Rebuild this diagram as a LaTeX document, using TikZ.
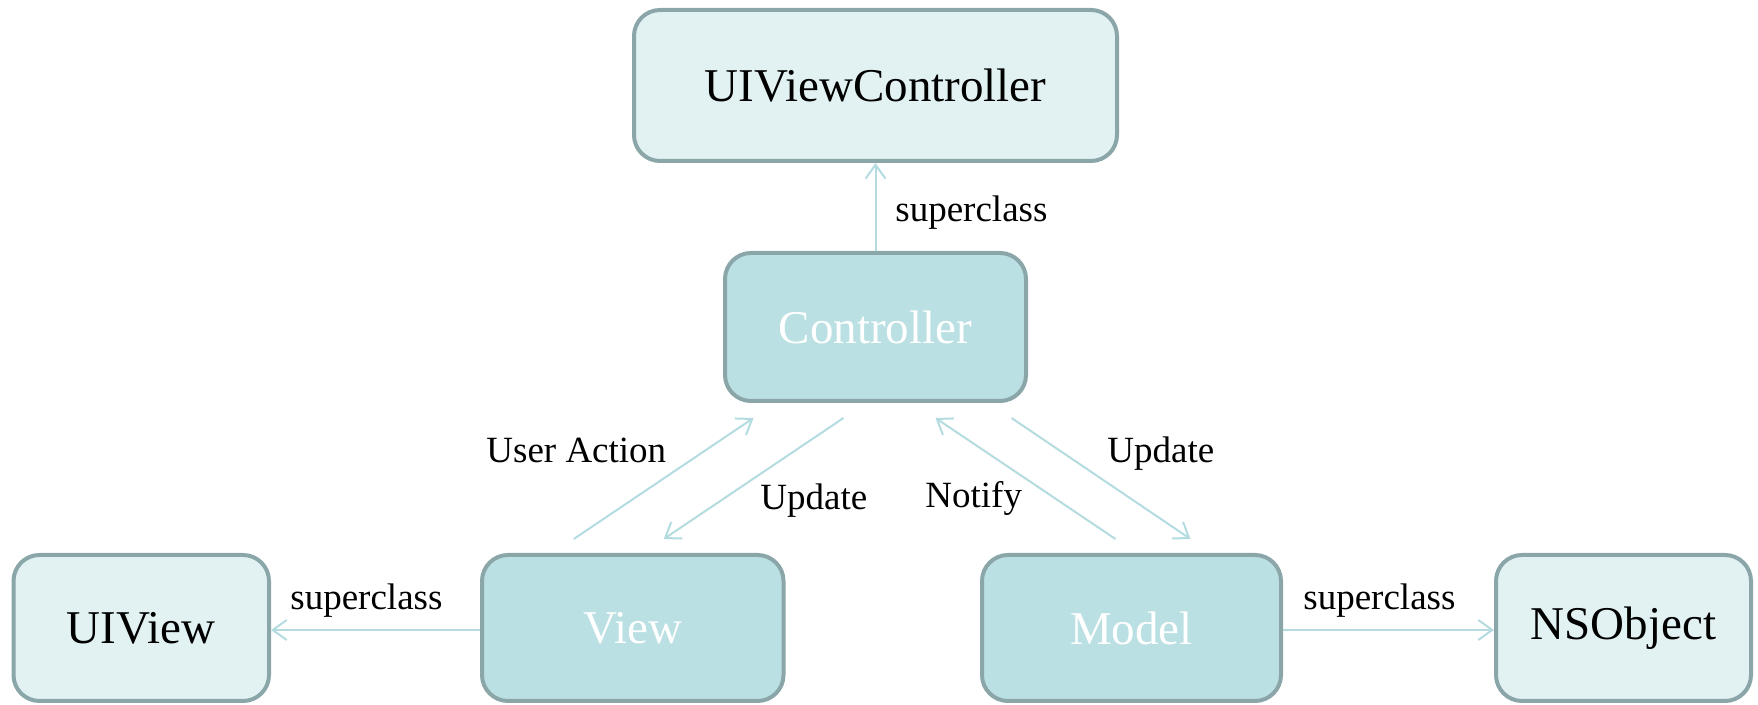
\documentclass[tikz,border=0pt]{standalone}
\usepackage{fontspec}
\setmainfont{Liberation Serif}
\usetikzlibrary{arrows.meta}
\definecolor{boxline}{RGB}{139,166,169}
\definecolor{lightfill}{RGB}{226,242,243}
\definecolor{darkfill}{RGB}{186,224,227}
\definecolor{arrowcol}{RGB}{180,220,224}
\tikzset{
  classbox/.style={draw=boxline, line width=2pt, rounded corners=13pt,
    inner sep=0pt, font=\fontsize{23.5}{28}\selectfont},
  basebox/.style={classbox, fill=lightfill, text=black},
  mvcbox/.style={classbox, fill=darkfill, text=white},
  link/.style={draw=arrowcol, line width=1pt,
    -{Straight Barb[length=7pt,width=10pt,line width=1pt]}},
  lbl/.style={anchor=base west, inner sep=0pt, font=\fontsize{18.5}{22}\selectfont}
}
\begin{document}
\begin{tikzpicture}[x=0.5pt,y=-0.5pt]
\useasboundingbox (0,0) rectangle (1758,705);

% class boxes
\node[basebox, minimum width=241.5pt, minimum height=75.5pt] (uivc) at (875.5,85.5) {UIViewController};
\node[mvcbox, minimum width=150.5pt, minimum height=74pt] (ctrl) at (875.5,327) {Controller};
\node[basebox, minimum width=127.75pt, minimum height=73pt] (uiview) at (141.25,628) {UIView};
\node[mvcbox, minimum width=150.75pt, minimum height=73pt] (view) at (632.75,628) {View};
\node[mvcbox, minimum width=149.5pt, minimum height=73pt] (model) at (1131.5,628) {Model};
\node[basebox, minimum width=127.5pt, minimum height=73pt] (nsobj) at (1623.5,628) {NSObject};

% end points of the diagonal links, just off the box edges
\coordinate (vUA) at ([xshift=-29.5pt,yshift=7pt]view.north);
\coordinate (cUA) at ([xshift=-61pt,yshift=-7.5pt]ctrl.south);
\coordinate (cUV) at ([xshift=-16pt,yshift=-7.5pt]ctrl.south);
\coordinate (vUV) at ([xshift=15.5pt,yshift=7pt]view.north);
\coordinate (mN) at ([xshift=-8pt,yshift=7pt]model.north);
\coordinate (cN) at ([xshift=30pt,yshift=-7.5pt]ctrl.south);
\coordinate (cUM) at ([xshift=68pt,yshift=-7.5pt]ctrl.south);
\coordinate (mUM) at ([xshift=29.5pt,yshift=7pt]model.north);

% superclass links
\draw[link] (ctrl.north) -- (uivc.south);
\draw[link] (view.west |- 0,630) -- (uiview.east |- 0,630);
\draw[link] (model.east |- 0,630) -- (nsobj.west |- 0,630);

% MVC messages
\draw[link] (vUA) -- (cUA);
\draw[link] (cUV) -- (vUV);
\draw[link] (mN) -- (cN);
\draw[link] (cUM) -- (mUM);

% labels
\node[lbl] (l1) at (895,222) {superclass};
\node[lbl] (l2) at (290,610) {superclass};
\node[lbl] (l3) at (1303,610) {superclass};
\node[lbl] (l4) at (486,463) {User Action};
\node[lbl] (l5) at (760,510) {Update};
\node[lbl] (l6) at (925,508) {Notify};
\node[lbl] (l7) at (1107,463) {Update};
\end{tikzpicture}
\end{document}
